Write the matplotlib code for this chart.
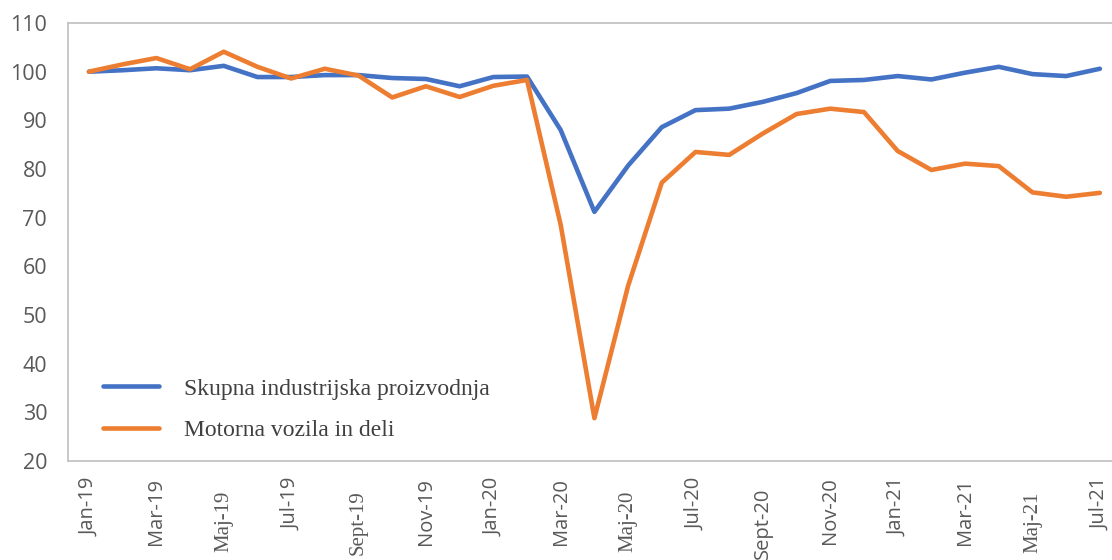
import numpy as np
import matplotlib.pyplot as plt
from matplotlib.transforms import offset_copy

# monthly index, Jan-19 .. Jul-21
months = ["Jan-19", "Feb-19", "Mar-19", "Apr-19", "Maj-19", "Jun-19", "Jul-19", "Avg-19",
          "Sept-19", "Okt-19", "Nov-19", "Dec-19", "Jan-20", "Feb-20", "Mar-20", "Apr-20",
          "Maj-20", "Jun-20", "Jul-20", "Avg-20", "Sept-20", "Okt-20", "Nov-20", "Dec-20",
          "Jan-21", "Feb-21", "Mar-21", "Apr-21", "Maj-21", "Jun-21", "Jul-21"]
skupna = [100.0, 100.3, 100.7, 100.3, 101.2, 98.9, 98.9, 99.3, 99.3, 98.7, 98.5, 97.0,
          98.9, 99.0, 88.0, 71.2, 80.7, 88.6, 92.1, 92.4, 93.8, 95.6, 98.1, 98.3,
          99.1, 98.4, 99.8, 101.0, 99.5, 99.1, 100.6]
motorna = [100.0, 101.5, 102.8, 100.5, 104.1, 101.0, 98.6, 100.6, 99.2, 94.7, 97.0, 94.8,
           97.1, 98.3, 68.5, 28.8, 56.0, 77.2, 83.5, 82.9, 87.3, 91.3, 92.4, 91.7,
           83.7, 79.8, 81.1, 80.6, 75.2, 74.3, 75.1]
tick_labels = months[::2]
serif_labels = {"Maj-19", "Sept-19", "Maj-20", "Maj-21"}
label_drop = {"Maj-19": 21, "Sept-19": 21, "Maj-20": 21, "Sept-20": 19, "Maj-21": 22}

x = np.arange(len(months))

fig = plt.figure(figsize=(11.12, 5.6), dpi=100)
ax = fig.add_axes([0.0612, 0.1768, 0.9388, 0.7821])

ax.plot(x, skupna, color="#4472C4", lw=3.3, solid_joinstyle="round",
        solid_capstyle="round", label="Skupna industrijska proizvodnja")
ax.plot(x, motorna, color="#ED7D31", lw=3.3, solid_joinstyle="round",
        solid_capstyle="round", label="Motorna vozila in deli")

ax.set_xlim(-0.62, 30.36)
ax.set_ylim(20, 110)
ax.set_yticks(range(20, 111, 10))
ax.set_xticks(x[::2])
ax.set_xticklabels([])

ax.tick_params(axis="both", length=0, colors="#595959")
ax.tick_params(axis="y", pad=15)
for lab in ax.get_yticklabels():
    lab.set_family("Open Sans")
    lab.set_fontsize(15.5)

# month labels drawn by hand: the original mixes fonts and some sit lower
for xi, txt in zip(x[::2], tick_labels):
    drop = label_drop.get(txt, 12)
    fam = "Liberation Serif" if txt in serif_labels else "Open Sans"
    size = 15 if txt in serif_labels else 14.5
    tr = offset_copy(ax.get_xaxis_transform(), fig=fig, y=-drop, units="points")
    ax.text(xi, 0, txt, transform=tr, rotation=90, ha="center", va="top",
            family=fam, fontsize=size, color="#595959", clip_on=False)

for side in ["top", "left", "bottom"]:
    ax.spines[side].set_color("#BFBFBF")
    ax.spines[side].set_linewidth(1.2)
ax.spines["right"].set_visible(False)

leg = ax.legend(loc="lower left", bbox_to_anchor=(0.033, 0.045), frameon=False,
                prop={"family": "Liberation Serif", "size": 17},
                handlelength=2.4, handletextpad=1.05, labelspacing=0.85,
                borderaxespad=0, borderpad=0)
for t in leg.get_texts():
    t.set_color("#404040")

fig.savefig("out.png", dpi=100)
